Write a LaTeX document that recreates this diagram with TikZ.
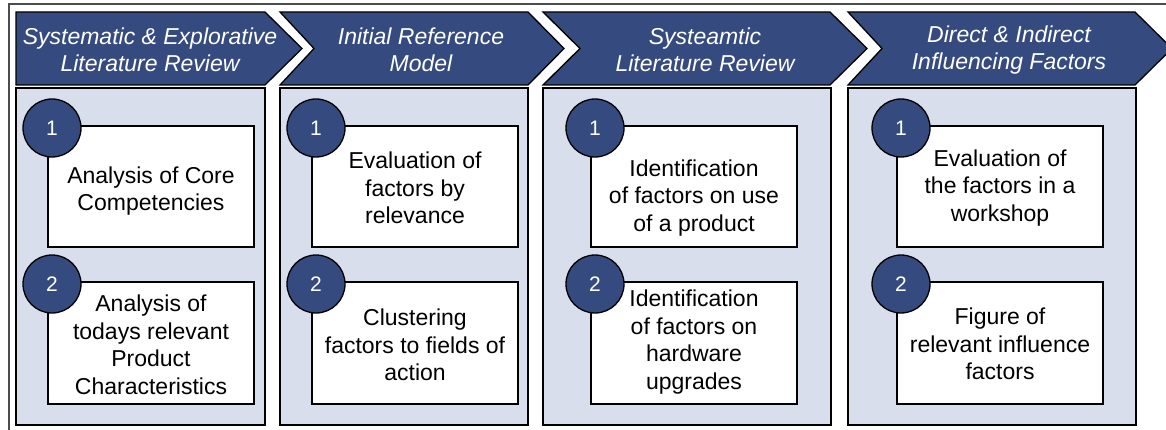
\documentclass[tikz,border=0pt]{standalone}
\usepackage{fontspec}
\setmainfont{Liberation Sans}
\definecolor{dblue}{HTML}{354A7E}
\definecolor{lblue}{HTML}{D9DEEC}
\tikzset{
  chev/.style={fill=dblue, draw=black, line width=1.3pt, line join=miter},
  panel/.style={fill=lblue, draw=black, line width=1.3pt},
  stepbox/.style={fill=white, draw=black, line width=1.3pt},
  numcirc/.style={circle, fill=dblue, draw=black, line width=1.3pt, minimum size=58pt, inner sep=0pt, text=white, font=\fontsize{21}{24}\selectfont},
  headtxt/.style={align=center, text=white, font=\fontsize{23}{27.5}\selectfont\itshape, inner sep=0pt},
  bodytxt/.style={align=center, text=black, font=\fontsize{23}{27.5}\selectfont, inner sep=0pt}
}
\begin{document}
\begin{tikzpicture}[x=1pt,y=-1pt]
\useasboundingbox (0,0) rectangle (1166,430);
\begin{scope}
\clip (0,0) rectangle (1166,430);
% outer frame
\draw[black!70, line width=1.2pt] (9,4) rectangle (1250,480);
% chevrons
\path[chev] (16,12) -- (265,12) -- (302,48.5) -- (265,85) -- (16,85) -- cycle;
\path[chev] (280,12) -- (528,12) -- (564,48.5) -- (528,85) -- (280,85) -- (314,48.5) -- cycle;
\path[chev] (543,12) -- (830,12) -- (867,48.5) -- (830,85) -- (543,85) -- (580,48.5) -- cycle;
\path[chev] (848,12) -- (1135,12) -- (1172,48.5) -- (1135,85) -- (848,85) -- (882,48.5) -- cycle;
% panels
\path[panel] (16,88) rectangle (265,425);
\path[panel] (280,88) rectangle (528,425);
\path[panel] (543,88) rectangle (831,425);
\path[panel] (848,88) rectangle (1136,425);
% boxes
\path[stepbox] (48,126) rectangle (254,247);
\path[stepbox] (48,282) rectangle (254,404);
\path[stepbox] (312,126) rectangle (518,247);
\path[stepbox] (312,282) rectangle (518,404);
\path[stepbox] (591,126) rectangle (797,247);
\path[stepbox] (591,282) rectangle (797,404);
\path[stepbox] (897,126) rectangle (1103,247);
\path[stepbox] (897,282) rectangle (1103,404);
\end{scope}
% header texts
\node[headtxt] (h1) at (150,50) {Systematic \& Explorative\\Literature Review};
\node[headtxt] (h2) at (421,50) {Initial Reference\\Model};
\node[headtxt] (h3) at (705,50) {Systeamtic\\Literature Review};
\node[headtxt] (h4) at (1009,50) {Direct \& Indirect\\Influencing Factors};
% body texts
\node[bodytxt] (t11) at (151,191) {Analysis of Core\\Competencies};
\node[bodytxt] (t12) at (151,345) {Analysis of\\todays relevant\\Product\\Characteristics};
\node[bodytxt] (t21) at (415,188) {Evaluation of\\factors by\\relevance};
\node[bodytxt] (t22) at (415,345) {Clustering\\factors to fields of\\action};
\node[bodytxt] (t31) at (694,198) {Identification\\of factors on use\\of a product};
\node[bodytxt] (t32) at (694,342) {Identification\\of factors on\\hardware\\upgrades};
\node[bodytxt] (t41) at (1000,188) {Evaluation of\\the factors in a\\workshop};
\node[bodytxt] (t42) at (1000,344) {Figure of\\relevant influence\\factors};
% circles
\node[numcirc] (c11) at (52,128) {1};
\node[numcirc] (c12) at (52,284) {2};
\node[numcirc] (c21) at (316,128) {1};
\node[numcirc] (c22) at (316,284) {2};
\node[numcirc] (c31) at (595,128) {1};
\node[numcirc] (c32) at (595,284) {2};
\node[numcirc] (c41) at (901,128) {1};
\node[numcirc] (c42) at (901,284) {2};
\end{tikzpicture}
\end{document}
